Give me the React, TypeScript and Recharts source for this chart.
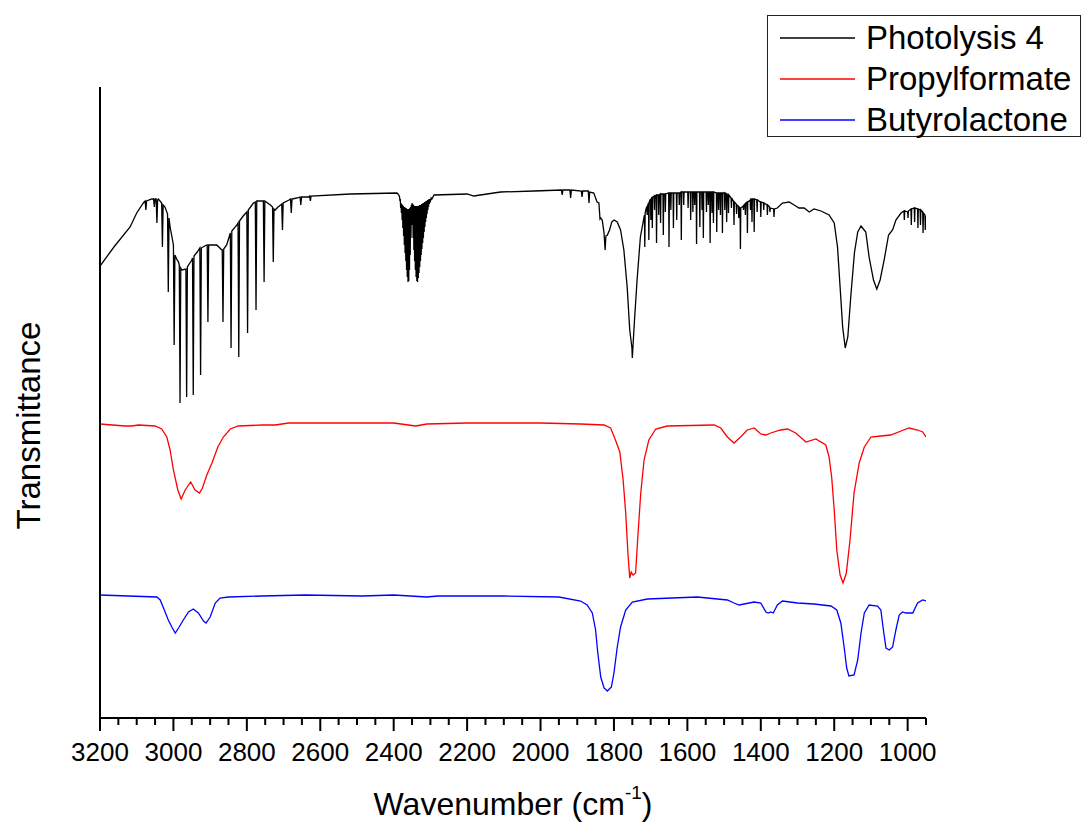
import { Legend, Line, LineChart, XAxis, YAxis } from "recharts";

// wavenumber (cm-1), transmittance (a.u., traces offset)
const photolysis: [number, number][] = [
  [3200, 4.52], [3160, 4.72], [3118, 4.91], [3100, 5.05], [3082, 5.15], [3077, 5.17], [3075, 5.08], [3073, 5.17],
  [3059, 5.19], [3054, 5.19], [3052, 5.11], [3050, 5.19], [3047, 5.19], [3045, 4.95], [3043, 5.18], [3041, 5.19],
  [3032, 5.15], [3030, 4.71], [3028, 5.13], [3023, 5.11], [3016, 5.04], [3014, 4.26], [3012, 5.0], [3009, 4.91],
  [3000, 4.73], [2998, 3.73], [2996, 4.63], [2990, 4.58], [2986, 4.56], [2984, 4.53], [2982, 3.15], [2980, 4.5],
  [2977, 4.48], [2966, 4.49], [2964, 3.21], [2962, 4.51], [2950, 4.58], [2948, 4.6], [2946, 3.23], [2944, 4.62],
  [2935, 4.66], [2928, 4.7], [2926, 3.43], [2924, 4.7], [2915, 4.72], [2908, 4.73], [2906, 3.96], [2904, 4.73],
  [2882, 4.73], [2868, 4.68], [2867, 4.68], [2865, 3.96], [2863, 4.69], [2855, 4.73], [2845, 4.85], [2843, 3.7],
  [2841, 4.87], [2827, 4.93], [2824, 4.95], [2822, 3.61], [2820, 4.97], [2810, 5.02], [2800, 5.06], [2798, 3.85],
  [2796, 5.08], [2782, 5.15], [2777, 5.16], [2775, 4.08], [2773, 5.17], [2765, 5.17], [2755, 5.17], [2753, 4.36],
  [2751, 5.17], [2736, 5.13], [2730, 5.11], [2728, 4.56], [2726, 5.09], [2723, 5.08], [2715, 5.11], [2705, 5.14],
  [2703, 4.88], [2701, 5.15], [2685, 5.18], [2681, 5.19], [2679, 5.05], [2677, 5.19], [2664, 5.2], [2655, 5.21],
  [2653, 5.13], [2651, 5.21], [2632, 5.21], [2629, 5.22], [2627, 5.17], [2625, 5.22], [2518, 5.24], [2391, 5.25],
  [2386, 5.23],
  // CO2 band
  [2384, 5.21], [2383, 5.17], [2382, 5.19], [2381, 5.1], [2380, 5.15], [2379, 5.05], [2378, 5.14], [2377, 4.98],
  [2376, 5.13], [2375, 4.9], [2374, 5.12], [2373, 4.82], [2372, 5.11], [2371, 4.73], [2370, 5.11], [2369, 4.65],
  [2368, 5.1], [2367, 4.57], [2366, 5.1], [2365, 4.48], [2364, 5.09], [2363, 4.41], [2362, 5.09], [2361, 4.36],
  [2360, 5.09], [2359, 4.37], [2358, 5.09], [2357, 4.48], [2356, 5.1], [2355, 4.63], [2354, 5.11], [2353, 4.8],
  [2352, 5.13], [2351, 4.95], [2350, 5.15], [2349, 4.93], [2348, 5.14], [2347, 4.8], [2346, 5.13], [2345, 4.68],
  [2344, 5.12], [2343, 4.57], [2342, 5.12], [2341, 4.48], [2340, 5.12], [2339, 4.41], [2338, 5.12], [2337, 4.37],
  [2336, 5.12], [2335, 4.36], [2334, 5.12], [2333, 4.4], [2332, 5.12], [2331, 4.45], [2330, 5.13], [2329, 4.51],
  [2328, 5.13], [2327, 4.57], [2326, 5.13], [2325, 4.63], [2324, 5.14], [2323, 4.69], [2322, 5.14], [2321, 4.75],
  [2320, 5.15], [2319, 4.8], [2318, 5.15], [2317, 4.86], [2316, 5.16], [2315, 4.91], [2314, 5.16], [2313, 4.96],
  [2312, 5.17], [2311, 5.0], [2310, 5.17], [2309, 5.04], [2308, 5.18], [2307, 5.08], [2306, 5.18], [2305, 5.11],
  [2304, 5.19], [2303, 5.14], [2302, 5.19], [2300, 5.17], [2298, 5.2], [2296, 5.19], [2290, 5.23],
  [2200, 5.24], [2182, 5.22], [2109, 5.26], [2018, 5.27], [1943, 5.28], [1941, 5.23], [1939, 5.28], [1927, 5.28],
  [1920, 5.28], [1918, 5.2], [1916, 5.28], [1889, 5.27], [1887, 5.21], [1885, 5.27], [1873, 5.27], [1870, 5.27],
  [1868, 5.15], [1866, 5.26], [1855, 5.25], [1846, 5.16], [1841, 5.15], [1838, 4.99], [1836, 5.0], [1832, 4.98],
  [1827, 4.85], [1824, 4.68], [1822, 4.82], [1818, 4.83], [1812, 4.88], [1806, 4.96], [1800, 4.98], [1791, 4.96],
  [1782, 4.88], [1773, 4.68], [1764, 4.31], [1757, 3.88], [1751, 3.7], [1750, 3.6], [1748, 3.73], [1744, 3.98],
  [1737, 4.38], [1728, 4.81],
  // water lines
  [1718, 5.01], [1717, 5.03], [1716, 4.71], [1715, 5.05], [1712, 5.1], [1710.5, 5.11], [1709.5, 5.03], [1708.5, 5.12],
  [1706, 5.15], [1705, 4.78], [1704, 5.16], [1700.5, 5.19], [1699.5, 4.98], [1698.5, 5.19], [1696.5, 5.21], [1695.5, 4.9],
  [1694.5, 5.21], [1690.5, 5.22], [1689.5, 5.08], [1688.5, 5.22], [1685, 5.23], [1684, 4.75], [1683, 5.23], [1679, 5.23],
  [1678, 5.03], [1677, 5.23], [1674, 5.24], [1673, 4.95], [1672, 5.24], [1666.5, 5.24], [1665.5, 4.83], [1664.5, 5.24],
  [1661, 5.24], [1660, 5.06], [1659, 5.24], [1651, 5.25], [1650, 4.71], [1649, 5.25], [1646, 5.25], [1645, 5.08],
  [1644, 5.25], [1639, 5.25], [1638, 4.9], [1637, 5.25], [1630, 5.25], [1629, 4.98], [1628, 5.25], [1623, 5.25],
  [1622, 5.13], [1621, 5.25], [1617.5, 5.26], [1616.5, 4.78], [1615.5, 5.26], [1611, 5.26], [1610, 5.13], [1609, 5.26],
  [1599, 5.26], [1598, 5.1], [1597, 5.26], [1592, 5.26], [1591, 4.98], [1590, 5.26], [1586, 5.26], [1585, 5.06],
  [1584, 5.26], [1581, 5.26], [1580, 5.13], [1579, 5.26], [1576, 5.26], [1575, 4.74], [1574, 5.26], [1567, 5.26],
  [1566, 4.91], [1565, 5.26], [1561, 5.26], [1560, 5.08], [1559, 5.26], [1557.5, 5.26], [1556.5, 4.8], [1555.5, 5.26],
  [1549, 5.26], [1548, 5.06], [1547, 5.26], [1544, 5.26], [1543, 5.13], [1542, 5.26], [1539, 5.26], [1538, 4.75],
  [1537, 5.26], [1534, 5.26], [1533, 5.05], [1532, 5.26], [1530, 5.26], [1529, 4.95], [1528, 5.26], [1521, 5.25],
  [1520, 4.86], [1519, 5.25], [1516, 5.25], [1515, 5.08], [1514, 5.25], [1511, 5.25], [1510, 5.03], [1509, 5.25],
  [1505.5, 5.25], [1504.5, 4.85], [1503.5, 5.25], [1499, 5.25], [1498, 5.08], [1497, 5.25], [1494, 5.24], [1493, 4.96],
  [1492, 5.24], [1489, 5.23], [1488, 5.05], [1487, 5.23], [1481, 5.2], [1480, 5.1], [1479, 5.2], [1474, 5.16],
  [1473, 4.93], [1472, 5.16], [1467, 5.14], [1466, 5.04], [1465, 5.13], [1461, 5.12], [1460, 5.0], [1459, 5.11],
  [1456.5, 5.1], [1455.5, 4.69], [1454.5, 5.1], [1448, 5.12], [1447, 5.08], [1446, 5.13], [1443, 5.14], [1442, 5.03],
  [1441, 5.15], [1437.5, 5.16], [1436.5, 4.85], [1435.5, 5.16], [1429, 5.18], [1428, 5.08], [1427, 5.19], [1425, 5.19],
  [1424, 4.96], [1423, 5.19], [1419, 5.19], [1418, 4.86], [1417, 5.19], [1411, 5.18], [1410, 5.06], [1409, 5.18],
  [1401, 5.16], [1400, 5.01], [1399, 5.16], [1393, 5.15], [1392, 5.08], [1391, 5.15], [1383, 5.13], [1382, 5.03],
  [1381, 5.13], [1376, 5.11], [1375, 5.06], [1374, 5.1], [1365, 5.09], [1364, 5.01], [1363, 5.09], [1355, 5.1],
  [1341, 5.15], [1323, 5.16], [1309, 5.13], [1296, 5.1], [1282, 5.1], [1268, 5.06], [1255, 5.09], [1236, 5.07],
  [1214, 5.03], [1200, 4.95], [1191, 4.71], [1184, 4.31], [1177, 3.91], [1170, 3.7], [1163, 3.81], [1155, 4.21],
  [1145, 4.65], [1136, 4.86], [1127, 4.92], [1114, 4.86], [1105, 4.61], [1093, 4.38], [1084, 4.29], [1075, 4.38],
  [1064, 4.58], [1052, 4.83], [1041, 4.88], [1032, 4.98], [1018, 5.05], [1010, 5.07], [1009, 4.98], [1008, 5.07],
  [1000, 5.06], [999, 5.0], [998, 5.07], [991, 5.09], [990, 4.93], [989, 5.09], [982, 5.1], [981, 4.96],
  [980, 5.1], [973, 5.09], [972, 4.9], [971, 5.09], [966, 5.08], [965, 4.93], [964, 5.08], [959, 5.06],
  [958, 4.85], [957, 5.05], [953, 5.03], [952, 4.88], [951, 5.02], [950, 5.01],
];

const propylformate: [number, number][] = [
  [3200, 2.94], [3132, 2.92], [3114, 2.92], [3095, 2.93], [3050, 2.92], [3032, 2.89], [3018, 2.81], [3009, 2.68],
  [3000, 2.48], [2988, 2.28], [2979, 2.19], [2968, 2.28], [2953, 2.36], [2941, 2.28], [2929, 2.25], [2921, 2.3],
  [2909, 2.43], [2895, 2.55], [2879, 2.71], [2864, 2.81], [2845, 2.89], [2823, 2.92], [2759, 2.93], [2723, 2.93],
  [2686, 2.95], [2577, 2.95], [2459, 2.95], [2400, 2.95], [2360, 2.93], [2340, 2.92], [2310, 2.94], [2200, 2.95],
  [2000, 2.95], [1891, 2.94], [1827, 2.93], [1809, 2.9], [1796, 2.78], [1784, 2.66], [1775, 2.38], [1768, 2.05],
  [1762, 1.65], [1757, 1.4], [1753, 1.46], [1748, 1.43], [1741, 1.45], [1735, 1.81], [1727, 2.25], [1718, 2.58],
  [1705, 2.78], [1686, 2.89], [1655, 2.92], [1527, 2.93], [1509, 2.9], [1491, 2.81], [1473, 2.75], [1455, 2.81],
  [1437, 2.88], [1418, 2.9], [1400, 2.84], [1386, 2.83], [1373, 2.85], [1346, 2.88], [1327, 2.89], [1305, 2.85],
  [1277, 2.76], [1250, 2.79], [1223, 2.73], [1214, 2.61], [1207, 2.41], [1200, 2.08], [1193, 1.68], [1184, 1.43],
  [1176, 1.35], [1167, 1.45], [1157, 1.78], [1146, 2.25], [1132, 2.55], [1118, 2.71], [1100, 2.81], [1073, 2.82],
  [1046, 2.83], [1018, 2.87], [996, 2.9], [973, 2.88], [959, 2.86], [950, 2.81],
];

const butyrolactone: [number, number][] = [
  [3200, 1.23], [3123, 1.22], [3045, 1.21], [3036, 1.18], [3027, 1.1], [3014, 0.98], [3003, 0.9], [2995, 0.85],
  [2986, 0.9], [2973, 0.98], [2959, 1.06], [2946, 1.09], [2932, 1.05], [2918, 0.97], [2911, 0.95], [2900, 1.01],
  [2886, 1.15], [2873, 1.2], [2850, 1.21], [2759, 1.22], [2641, 1.23], [2486, 1.22], [2400, 1.23], [2310, 1.21],
  [2280, 1.22], [2100, 1.22], [1950, 1.21], [1891, 1.17], [1873, 1.13], [1859, 1.05], [1850, 0.88], [1844, 0.65],
  [1836, 0.41], [1827, 0.3], [1818, 0.27], [1807, 0.31], [1800, 0.45], [1791, 0.71], [1782, 0.91], [1768, 1.08],
  [1750, 1.16], [1709, 1.19], [1573, 1.21], [1491, 1.18], [1473, 1.15], [1459, 1.13], [1418, 1.16], [1400, 1.15],
  [1386, 1.06], [1380, 1.05], [1373, 1.06], [1366, 1.05], [1355, 1.13], [1341, 1.17], [1300, 1.15], [1255, 1.14],
  [1209, 1.12], [1193, 1.08], [1182, 0.95], [1173, 0.71], [1166, 0.5], [1160, 0.42], [1146, 0.43], [1136, 0.58],
  [1127, 0.85], [1118, 1.05], [1105, 1.13], [1082, 1.12], [1073, 1.08], [1066, 0.88], [1059, 0.7], [1050, 0.68],
  [1041, 0.71], [1032, 0.88], [1023, 1.03], [1014, 1.06], [1005, 1.05], [986, 1.05], [973, 1.15], [959, 1.18],
  [950, 1.17],
];

const majorTicks = [3200, 3000, 2800, 2600, 2400, 2200, 2000, 1800, 1600, 1400, 1200, 1000];
const axisTicks = [
  3200, 3150, 3100, 3050, 3000, 2950, 2900, 2850, 2800, 2750, 2700, 2650, 2600, 2550, 2500, 2450,
  2400, 2350, 2300, 2250, 2200, 2150, 2100, 2050, 2000, 1950, 1900, 1850, 1800, 1750, 1700, 1650,
  1600, 1550, 1500, 1450, 1400, 1350, 1300, 1250, 1200, 1150, 1100, 1050, 1000, 950,
];

const FONT = "'Liberation Sans', Arial, sans-serif";

const toRows = (pts: [number, number][]) => pts.map(([wn, t]) => ({ wn, t }));

const traces = [
  { name: "Photolysis 4", color: "#000000", width: 1.3, data: toRows(photolysis) },
  { name: "Propylformate", color: "#ff0000", width: 1.3, data: toRows(propylformate) },
  { name: "Butyrolactone", color: "#0000ff", width: 1.3, data: toRows(butyrolactone) },
];

function WnTick({ x, y, payload }: any) {
  const major = majorTicks.includes(payload.value);
  return (
    <g>
      <line x1={x} x2={x} y1={y} y2={y + (major ? 13 : 7)} stroke="#000" strokeWidth={2} />
      {major && (
        <text x={x} y={y + 43} textAnchor="middle" fontSize={26} fontFamily={FONT} fill="#000">
          {payload.value}
        </text>
      )}
    </g>
  );
}

function XTitle({ viewBox }: any) {
  const cx = viewBox.x + viewBox.width / 2;
  return (
    <text x={cx} y={viewBox.y + 97} textAnchor="middle" fontSize={32} fontFamily={FONT} fill="#000">
      Wavenumber (cm
      <tspan dy={-16} fontSize={19}>-1</tspan>
      <tspan dy={16}>)</tspan>
    </text>
  );
}

function YTitle({ viewBox }: any) {
  const cy = viewBox.y + viewBox.height / 2 + 23;
  return (
    <text x={40} y={cy} transform={`rotate(-90, 40, ${cy})`} textAnchor="middle" fontSize={33} fontFamily={FONT} fill="#000">
      Transmittance
    </text>
  );
}

const renderLegend = () => (
  <div
    style={{
      border: "1px solid #222",
      width: 314,
      height: 122,
      boxSizing: "border-box",
      paddingTop: 1,
      paddingLeft: 12,
      background: "#fff",
      fontFamily: FONT,
    }}
  >
    {traces.map((s) => (
      <div key={s.name} style={{ display: "flex", alignItems: "center", height: 41, lineHeight: "41px" }}>
        <svg width={75} height={4}>
          <line x1={0} x2={75} y1={2} y2={2} stroke={s.color} strokeWidth={1.3} />
        </svg>
        <span style={{ marginLeft: 11, fontSize: 33, color: "#000" }}>{s.name}</span>
      </div>
    ))}
  </div>
);

export default function App() {
  return (
    <div style={{ position: "absolute", left: 0, top: 0, background: "#fff", fontFamily: FONT }}>
      <LineChart width={1082} height={823} margin={{ top: 87, right: 156, bottom: 0, left: 40 }}>
        <XAxis
          type="number"
          dataKey="wn"
          domain={[950, 3200]}
          reversed
          allowDataOverflow
          ticks={axisTicks}
          interval={0}
          tickSize={0}
          tickMargin={0}
          tickLine={false}
          tick={<WnTick />}
          axisLine={{ stroke: "#000", strokeWidth: 2 }}
          height={105}
          label={<XTitle />}
        />
        <YAxis
          type="number"
          dataKey="t"
          domain={[0, 6.31]}
          allowDataOverflow
          width={60}
          tick={false}
          tickLine={false}
          axisLine={{ stroke: "#000", strokeWidth: 2 }}
          label={<YTitle />}
        />
        <Legend
          layout="vertical"
          align="center"
          verticalAlign="middle"
          content={renderLegend}
          wrapperStyle={{ position: "absolute", left: 767, top: 15, width: 314, height: 122 }}
        />
        {traces.map((s) => (
          <Line
            key={s.name}
            name={s.name}
            data={s.data}
            dataKey="t"
            type="linear"
            stroke={s.color}
            strokeWidth={s.width}
            dot={false}
            activeDot={false}
            isAnimationActive={false}
          />
        ))}
      </LineChart>
    </div>
  );
}
